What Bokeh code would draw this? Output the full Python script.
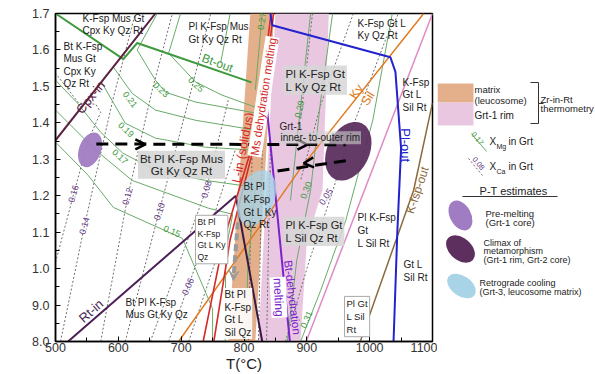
from bokeh.plotting import figure
from bokeh.models import Range1d, FixedTicker, Label, Arrow, OpenHead, VeeHead
from bokeh.layouts import row
from bokeh.embed import file_html
from bokeh.resources import INLINE

FONT = "Liberation Sans"

# ---------------- axes ----------------
x_ticks = [500, 600, 700, 800, 900, 1000, 1100]
x_minor = [550, 650, 750, 850, 950, 1050]
y_ticks = [0.8, 0.9, 1.0, 1.1, 1.2, 1.3, 1.4, 1.5, 1.6, 1.7]
y_tick_labels = ["8.0", "9.0", "1.0", "1.1", "1.2", "1.3", "1.4", "1.5", "1.6", "1.7"]
y_minor = [0.85, 0.95, 1.05, 1.15, 1.25, 1.35, 1.45, 1.55, 1.65]

# ---------------- Zr-in-Rt temperature bands ----------------
matrix_T = [810, 848, 818, 775]
matrix_P = [1.70, 1.70, 0.80, 0.80]
rim_T = [850, 935, 925, 900, 890, 823]
rim_P = [1.70, 1.70, 1.215, 1.077, 0.80, 0.80]

# ---------------- reaction lines ----------------
cpx_in_T = [500, 659]
cpx_in_P = [1.352, 1.70]
rt_in_T = [520, 787]
rt_in_P = [0.80, 1.20]
rt_branch_T = [787, 829]
rt_branch_P = [1.20, 0.80]
solidus_T = [735, 768, 812, 826, 843]
solidus_P = [0.80, 1.08, 1.33, 1.46, 1.70]
ms_melt_T = [752, 778, 815, 829, 847]
ms_melt_P = [0.80, 1.08, 1.33, 1.46, 1.70]
bt_melt_T = [837, 873]
bt_melt_P = [1.43, 0.80]
pl_out_T = [842, 845, 1033, 1041, 1050, 1044, 1038]
pl_out_P = [1.70, 1.668, 1.58, 1.54, 1.33, 1.10, 0.80]
ky_sil_T = [696, 890, 1086]
ky_sil_P = [0.80, 1.275, 1.70]
pink_T = [899, 1100]
pink_P = [0.80, 1.70]
kfsp_out_T = [985, 1070, 1100]
kfsp_out_P = [0.80, 1.215, 1.455]
bt_out_T = [500, 608, 630, 667, 812]
bt_out_P = [1.70, 1.575, 1.619, 1.597, 1.511]

# ---------------- XMg in garnet isopleths ----------------
mg_025_T = [699, 680, 723, 765, 818]
mg_025_P = [1.70, 1.591, 1.512, 1.476, 1.443]
mg_023_T = [662, 630, 659, 675, 723, 818]
mg_023_P = [1.70, 1.60, 1.517, 1.484, 1.457, 1.427]
mg_021_T = [592, 622, 659, 723, 818]
mg_021_P = [1.553, 1.481, 1.435, 1.407, 1.38]
mg_019_T = [573, 611, 659, 739, 818]
mg_019_P = [1.512, 1.399, 1.358, 1.333, 1.325]
mg_017_T = [500, 535, 572, 607, 659, 739, 818, 806, 803]
mg_017_P = [1.517, 1.454, 1.374, 1.317, 1.27, 1.242, 1.223, 1.00, 0.80]
mg_016_T = [500, 564, 622, 743, 782, 771, 770]
mg_016_P = [1.435, 1.325, 1.242, 1.166, 1.149, 1.05, 0.80]
mg_015_T = [500, 552, 592, 702, 750, 750]
mg_015_P = [1.347, 1.256, 1.168, 1.083, 0.89, 0.80]
mg_top_T = [778, 763]
mg_top_P = [1.70, 1.566]
mg_027_T = [829, 818]
mg_027_P = [1.70, 1.49]
mg_029_T = [906, 874]
mg_029_P = [1.70, 1.187]
mg_030_T = [941, 922, 906, 884, 869]
mg_030_P = [1.70, 1.462, 1.215, 1.023, 0.80]
mg_031_T = [890, 922, 962, 1005, 1036]
mg_031_P = [0.80, 0.94, 1.1325, 1.4075, 1.70]

# ---------------- XCa in garnet isopleths ----------------
ca_016_T = [500, 529, 552, 572, 564, 537, 500]
ca_016_P = [1.017, 1.205, 1.352, 1.429, 1.451, 1.454, 1.536]
ca_014_T = [508, 546, 591, 627]
ca_014_P = [0.80, 1.117, 1.462, 1.70]
ca_012_T = [572, 615, 654, 686]
ca_012_P = [0.80, 1.198, 1.49, 1.70]
ca_010_T = [611, 665, 712, 747]
ca_010_P = [0.80, 1.157, 1.462, 1.70]
ca_008_T = [651, 740, 775]
ca_008_P = [0.80, 1.218, 1.462]
ca_007_T = [712, 739, 771]
ca_007_P = [0.80, 0.94, 1.105]
ca_006_T = [680, 711, 755, 786]
ca_006_P = [0.80, 0.951, 1.160, 1.325]
ca_band1_T = [813, 807]
ca_band1_P = [1.325, 0.80]
ca_band2_T = [829, 823]
ca_band2_P = [1.325, 0.80]
ca_band3_T = [842, 836]
ca_band3_P = [1.325, 0.80]
ca_005_T = [866, 903, 938, 977, 1025, 1046]
ca_005_P = [0.80, 1.017, 1.196, 1.407, 1.627, 1.70]
ca_hi1_T = [974, 922, 890]
ca_hi1_P = [1.70, 1.449, 1.242]
ca_hi2_T = [909, 890]
ca_hi2_P = [1.70, 1.407]

# ---------------- P-T estimates (ellipses) ----------------
est_names = ["Pre-melting", "Climax", "Retrograde"]
est_T = [555, 966, 820]
est_P = [1.326, 1.322, 1.194]
est_dT = [35, 67, 57]
est_dP = [0.099, 0.170, 0.159]
est_angle = [-0.35, -0.45, -0.35]
est_colors = ["#a07cc2", "#5c2f5f", "#a9d3e6"]

# ---------------- P-T path ----------------
path_out_T = [565, 962]
path_out_P = [1.342, 1.340]
path_back_T = [962, 842]
path_back_P = [1.296, 1.265]
retro_T = [790, 783]
retro_P = [1.127, 0.967]

C_ORANGE_BAND = "#e4b08b"
C_PINK_BAND = "#e9c7e1"
C_GREEN = "#3f9a3f"
C_GREEN_T = "#6aaa6a"
C_DOT = "#6e6e6e"
C_PURPLE_LAB = "#6a3d8a"

p = figure(width=437, height=374, x_range=Range1d(500, 1100), y_range=Range1d(0.8, 1.7),
           output_backend="svg", toolbar_location=None, title=None,
           min_border_left=55, min_border_right=5, min_border_top=13, min_border_bottom=33)
p.grid.visible = False
p.outline_line_color = "black"
p.outline_line_width = 1.5
p.outline_line_alpha = 1.0
for ax in (p.xaxis[0], p.yaxis[0]):
    ax.axis_line_width = 1.5
    ax.axis_line_color = "black"
    ax.major_tick_in = 5
    ax.major_tick_out = 0
    ax.minor_tick_in = 4
    ax.minor_tick_out = 0
    ax.major_tick_line_color = "black"
    ax.minor_tick_line_color = "black"
    ax.major_label_text_font = FONT
    ax.major_label_text_font_size = "12.5px"
    ax.major_label_text_color = "#333333"
p.xaxis.ticker = FixedTicker(ticks=x_ticks, minor_ticks=x_minor)
p.yaxis.ticker = FixedTicker(ticks=y_ticks, minor_ticks=y_minor)
p.yaxis.major_label_overrides = {t: s for t, s in zip(y_ticks, y_tick_labels)}
p.xaxis.major_label_standoff = 1
p.yaxis.major_label_standoff = 6
p.xaxis.axis_label = "T(°C)"
p.xaxis.axis_label_text_font = FONT
p.xaxis.axis_label_text_font_size = "15px"
p.xaxis.axis_label_text_font_style = "normal"
p.xaxis.axis_label_text_color = "#222222"
p.xaxis.axis_label_standoff = 0

# bands
p.patch(rim_T, rim_P, fill_color=C_PINK_BAND, line_color=None)
p.patch(matrix_T, matrix_P, fill_color=C_ORANGE_BAND, line_color=None)

# XCa isopleths (dotted)
for tt, pp in [(ca_016_T, ca_016_P), (ca_014_T, ca_014_P), (ca_012_T, ca_012_P),
               (ca_010_T, ca_010_P), (ca_008_T, ca_008_P), (ca_007_T, ca_007_P),
               (ca_006_T, ca_006_P), (ca_band1_T, ca_band1_P), (ca_band2_T, ca_band2_P),
               (ca_band3_T, ca_band3_P), (ca_005_T, ca_005_P), (ca_hi1_T, ca_hi1_P),
               (ca_hi2_T, ca_hi2_P)]:
    p.line(tt, pp, line_color=C_DOT, line_width=1, line_dash="2 2")

# XMg isopleths (thin green)
for tt, pp in [(mg_025_T, mg_025_P), (mg_023_T, mg_023_P), (mg_021_T, mg_021_P),
               (mg_019_T, mg_019_P), (mg_017_T, mg_017_P), (mg_016_T, mg_016_P),
               (mg_015_T, mg_015_P), (mg_top_T, mg_top_P), (mg_027_T, mg_027_P),
               (mg_029_T, mg_029_P), (mg_030_T, mg_030_P), (mg_031_T, mg_031_P)]:
    p.line(tt, pp, line_color=C_GREEN_T, line_width=1)

p.line(bt_out_T, bt_out_P, line_color=C_GREEN, line_width=2)

# reactions
p.line(pink_T, pink_P, line_color="#e08ac4", line_width=1.5)
p.line(ky_sil_T, ky_sil_P, line_color="#e07b22", line_width=1.5)
p.line(kfsp_out_T, kfsp_out_P, line_color="#8b6a3c", line_width=1.5)
p.line(cpx_in_T, cpx_in_P, line_color="#5a2040", line_width=2)
p.line(rt_in_T, rt_in_P, line_color="#4b1f55", line_width=2)
p.line(rt_branch_T, rt_branch_P, line_color="#3a1845", line_width=2)
p.line(solidus_T, solidus_P, line_color="#d42a2a", line_width=1.6)
p.line(ms_melt_T, ms_melt_P, line_color="#d42a2a", line_width=1.6)
p.line(bt_melt_T, bt_melt_P, line_color="#7a22cc", line_width=2)
p.line(pl_out_T, pl_out_P, line_color="#2222d0", line_width=2)

# ellipses
p.ellipse(x=est_T, y=est_P, width=est_dT, height=est_dP, angle=est_angle,
          fill_color=est_colors, fill_alpha=[0.95, 0.95, 0.8], line_color=None)

# P-T path
p.line(path_out_T, path_out_P, line_color="black", line_width=3, line_dash="12 7")
p.line(path_back_T, path_back_P, line_color="black", line_width=3, line_dash="12 7")
p.add_layout(Arrow(end=VeeHead(size=10, fill_color="#9a9a9a", line_color="#9a9a9a"),
                   x_start=retro_T[0], y_start=retro_P[0], x_end=retro_T[1], y_end=retro_P[1],
                   line_color="#9a9a9a", line_width=4, line_dash="7 4"))
for xs, ys, xe, ye in [(630, 1.341, 643, 1.341), (888, 1.340, 901, 1.340), (908, 1.291, 895, 1.289)]:
    p.add_layout(Arrow(end=OpenHead(size=10, line_width=2.5, line_color="black"),
                       x_start=xs, y_start=ys, x_end=xe, y_end=ye, line_alpha=0))


def lab(fig, text, x, y, size="10px", color="#222222", align="left", baseline="top",
        angle=0.0, bg=None, bg_alpha=1.0, border=None, lh=1.15, pad=0, xu="data", yu="data",
        style="normal"):
    kw = dict(x=x, y=y, x_units=xu, y_units=yu, text=text, text_font=FONT,
              text_font_size=size, text_color=color, text_align=align,
              text_baseline=baseline, angle=angle, angle_units="rad",
              text_line_height=lh, text_font_style=style)
    if bg is not None:
        kw.update(background_fill_color=bg, background_fill_alpha=bg_alpha, padding=pad)
    if border is not None:
        kw.update(border_line_color=border, border_line_width=1)
    fig.add_layout(Label(**kw))


# y axis title
lab(p, "P(GPa)", -40, 181, size="16px", align="center", baseline="middle",
    angle=1.5708, xu="screen", yu="screen")

# field labels
lab(p, "K-Fsp Mus Gt\nCpx Ky Qz Rt", 543, 1.7027)
lab(p, "Bt K-Fsp\nMus Gt\nCpx Ky\nQz Rt", 512.7, 1.6258)
lab(p, "Pl K-Fsp Mus\nGt Ky Qz Rt", 711.7, 1.6794)
lab(p, "Bt Pl K-Fsp Mus\nGt Ky Qz Rt", 700.5, 1.3235, size="11.5px", align="center",
    bg="#d6d6d6", bg_alpha=0.9, lh=1.0, pad=2)
lab(p, "Pl K-Fsp Gt\nL Ky Qz Rt", 862.9, 1.557, size="11.5px", bg="#d6d6d6",
    bg_alpha=0.85, lh=1.1, pad=2)
lab(p, "K-Fsp Gt L\nKy Qz Rt", 980.6, 1.689)
lab(p, "K-Fsp\nGt L\nSil Rt", 1052.3, 1.527)
lab(p, "Grt-1", 856.5, 1.4046)
lab(p, "inner- to-outer rim", 856.5, 1.377, bg="#cfcfcf", bg_alpha=0.6, pad=1)
lab(p, "Bt Pl\nK-Fsp\nGt L Ky\nQz Rt", 799.2, 1.2397)
lab(p, "Pl K-Fsp Gt\nL Sil Qz Rt", 862.9, 1.1422, size="11px", bg="#d6d6d6",
    bg_alpha=0.85, lh=1.1, pad=2)
lab(p, "Bt Pl\nK-Fsp\nGt L Ky\nQz", 722.8, 1.1463, size="8.5px", bg="white",
    border="#aaaaaa", pad=2)
lab(p, "Bt Pl\nK-Fsp\nGt L\nSil Qz", 767.4, 0.947, bg="white", bg_alpha=0.9, pad=1)
lab(p, "Bt Pl K-Fsp\nMus Gt Ky Qz", 611.4, 0.921, lh=1.05)
lab(p, "Pl K-Fsp\nGt\nL Sil Rt", 980.6, 1.1545)
lab(p, "Gt L\nSil Rt", 1053.9, 1.0254)
lab(p, "Pl Gt\nL Sil\nRt", 960, 0.9237, size="9.5px", bg="white", border="#aaaaaa", pad=2)

# reaction labels
lab(p, "Bt-out", 757.8, 1.564, size="12px", color=C_GREEN, align="center",
    baseline="middle", angle=-0.35)
lab(p, "Cpx-in", 555.7, 1.4705, size="13px", color="#5a2040", align="center",
    baseline="middle", angle=0.9)
lab(p, "Rt-in", 556.5, 0.8838, size="13px", color="#4b1f55", align="center",
    baseline="middle", angle=0.72)
lab(p, "Ky", 979, 1.4857, size="12.5px", color="#e07b22", align="center",
    baseline="middle", angle=1.0)
lab(p, "Sil", 997.3, 1.4665, size="12.5px", color="#e07b22", align="center",
    baseline="middle", angle=1.0)
lab(p, "Pl-out", 1057, 1.3386, size="13px", color="#2222d0", align="center",
    baseline="middle", angle=-1.5708)
lab(p, "K-fsp-out", 1076, 1.215, size="12px", color="#8b6a3c", align="center",
    baseline="middle", angle=1.25)
lab(p, "L-in (solidus)", 798.4, 1.3318, size="12.5px", color="#d42a2a", align="center",
    baseline="middle", angle=1.38)
lab(p, "Ms dehydration melting", 831, 1.472, size="11.5px", color="#d42a2a",
    align="center", baseline="middle", angle=1.42, bg="white", pad=1)
lab(p, "Bt-dehydration", 877.2, 0.921, size="11.5px", color="#7a22cc", align="center",
    baseline="middle", angle=-1.45)
lab(p, "melting", 855, 0.921, size="12px", color="#7a22cc", align="center",
    baseline="middle", angle=-1.52, bg="white", pad=1)

# isopleth labels
mg_labels = ["0.17", "0.19", "0.21", "0.23", "0.25", "0.27", "0.29", "0.30", "0.31", "0.15"]
mg_lab_pos = [(602.6, 1.307, -0.75), (612.2, 1.381, -0.75), (618.6, 1.4637, -0.9),
              (667.9, 1.491, -0.75), (723.6, 1.505, -0.75), (828.6, 1.679, 1.4),
              (888.3, 1.4376, 1.35), (898.7, 1.215, 1.2), (899.5, 0.8605, 1.15),
              (685.4, 1.1023, -0.4)]
for t, (x, y, a) in zip(mg_labels, mg_lab_pos):
    lab(p, t, x, y, size="9px", color=C_GREEN, align="center", baseline="middle", angle=a)
ca_labels = ["0.16", "0.14", "0.12", "0.10", "0.08", "0.06", "0.05"]
ca_lab_pos = [(528.6, 1.2054, 1.3), (546.2, 1.1174, 1.3), (614.6, 1.1985, 1.3),
              (665.5, 1.157, 1.25), (740.3, 1.2177, 1.3), (710.9, 0.951, 1.15),
              (930.5, 1.197, 1.0)]
for t, (x, y, a) in zip(ca_labels, ca_lab_pos):
    lab(p, t, x, y, size="9px", color=C_PURPLE_LAB, align="center", baseline="middle", angle=a)

# ---------------- legend panel (coordinates in pixels, y measured from the top) ----------------
LH = 374
FR_TOP, FR_BOT = 13, 341
leg = figure(width=158, height=LH, x_range=Range1d(0, 158),
             y_range=Range1d(LH - FR_BOT, LH - FR_TOP),
             output_backend="svg", toolbar_location=None, title=None,
             min_border_left=0, min_border_right=0,
             min_border_top=FR_TOP, min_border_bottom=LH - FR_BOT,
             x_axis_location=None, y_axis_location=None)
leg.grid.visible = False
leg.outline_line_color = None


def Y(v):
    return LH - v


leg.quad(left=[0, 0], right=[36, 36], top=[Y(83), Y(102)], bottom=[Y(102), Y(125)],
         fill_color=[C_ORANGE_BAND, C_PINK_BAND], line_color=None)
lab(leg, "matrix\n(leucosome)", 37, Y(83), size="9.5px", lh=1.05)
lab(leg, "Grt-1 rim", 37, Y(115), size="10px", baseline="middle")
leg.line([93, 101, 101, 93], [Y(82), Y(82), Y(123), Y(123)], line_color="#333333", line_width=1)
leg.line([101, 106], [Y(103), Y(103)], line_color="#333333", line_width=1)
lab(leg, "Zr-in-Rt\nthermometry", 103, Y(93), size="9.5px", lh=0.9)

leg.line([34, 49], [Y(133), Y(151)], line_color=C_GREEN_T, line_width=1)
lab(leg, "0.17", 40, Y(138), size="7.5px", color=C_GREEN, align="center", baseline="middle",
    angle=-0.88)
lab(leg, "X", 52, Y(141), size="10px", baseline="middle")
lab(leg, "Mg", 59, Y(146), size="7px", baseline="middle")
lab(leg, "in Grt", 71, Y(141), size="10px", baseline="middle")

leg.line([31, 45], [Y(158), Y(175)], line_color=C_DOT, line_width=1, line_dash="2 2")
lab(leg, "0.08", 41, Y(163), size="7.5px", color=C_PURPLE_LAB, align="center",
    baseline="middle", angle=-0.88)
lab(leg, "X", 52, Y(166), size="10px", baseline="middle")
lab(leg, "Ca", 59, Y(171), size="7px", baseline="middle")
lab(leg, "in Grt", 71, Y(166), size="10px", baseline="middle")

lab(leg, "P-T estimates", 76, Y(190), size="11px", align="center", baseline="middle")
leg.line([25, 120], [Y(196), Y(196)], line_color="#333333", line_width=1)

leg.ellipse(x=[23, 23, 24], y=[Y(215), Y(248.5), Y(285.5)], width=[21, 22, 20],
            height=[32, 33, 32], angle=[0.5, 0.85, 0.95], fill_color=est_colors,
            line_color=None)
lab(leg, "Pre-melting\n(Grt-1 core)", 48, Y(207), size="9.5px", lh=0.9)
lab(leg, "Climax of\nmetamorphism\n(Grt-1 rim, Grt-2 core)", 46, Y(237), size="9px", lh=0.88)
lab(leg, "Retrograde cooling\n(Grt-3, leucosome matrix)", 42, Y(277), size="9px", lh=0.9)

layout = row(p, leg)
open("out.html", "w").write(file_html(layout, INLINE))
